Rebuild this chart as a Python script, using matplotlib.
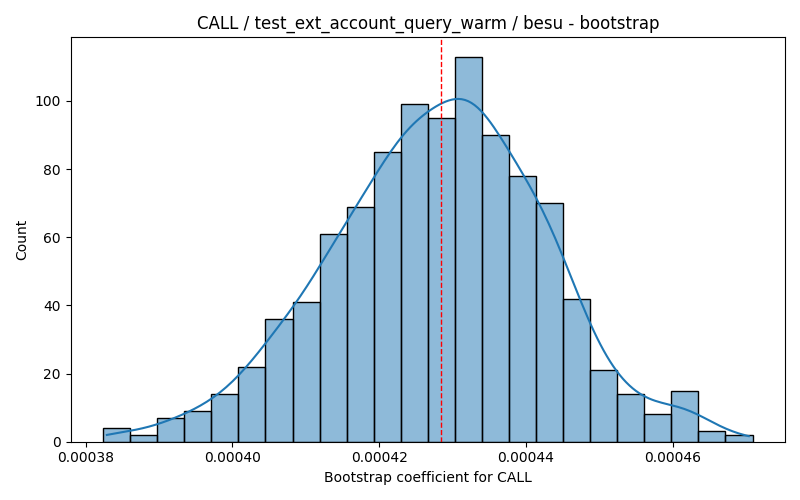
import numpy as np
import matplotlib
matplotlib.use("Agg")
import matplotlib.pyplot as plt
import seaborn as sns

# bootstrap histogram (24 bins, 1000 resamples)
bin_lo = 0.0003824
bin_width = 3.686e-6
counts = [4, 2, 7, 9, 14, 22, 36, 41, 61, 69, 85, 99,
          95, 113, 90, 78, 70, 42, 21, 14, 8, 15, 3, 2]
mean_coef = 0.0004284

n_bins = len(counts)
bin_hi = bin_lo + bin_width * n_bins
centers = bin_lo + bin_width * (np.arange(n_bins) + 0.5)

fig, ax = plt.subplots(figsize=(8, 5), dpi=100)
sns.histplot(x=centers, weights=counts, bins=n_bins, binrange=(bin_lo, bin_hi),
             kde=True, edgecolor="black", ax=ax,
             kde_kws={"bw_adjust": 0.42, "cut": 0.23})
ax.axvline(mean_coef, color="red", linestyle="--", linewidth=1)
ax.set_title("CALL / test_ext_account_query_warm / besu - bootstrap")
ax.set_xlabel("Bootstrap coefficient for CALL")
ax.set_ylabel("Count")
plt.tight_layout()
plt.savefig("out.png", dpi=100)
